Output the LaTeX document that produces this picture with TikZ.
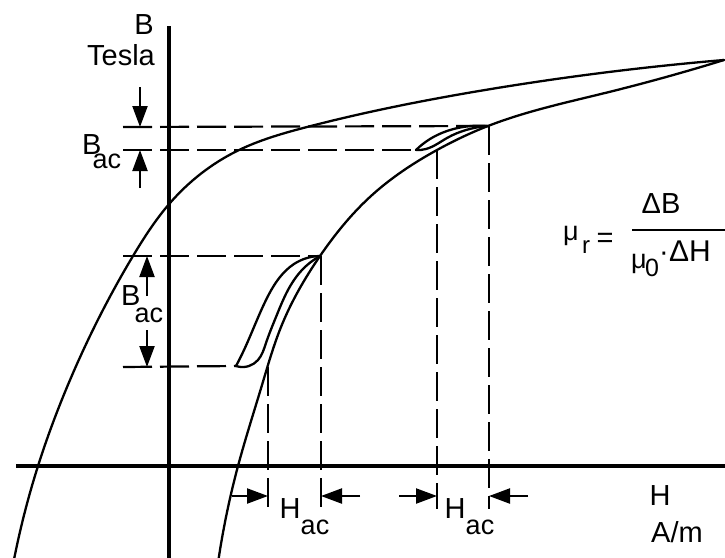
\documentclass[tikz,border=0pt]{standalone}
\usepackage{fontspec}
\setmainfont{Liberation Sans}
\usetikzlibrary{arrows.meta,hobby}
\begin{document}
\begin{tikzpicture}[x=1pt,y=-1pt,
  curve/.style={line width=2.3pt, line join=round, line cap=round},
  axis/.style={line width=4.6pt},
  guide/.style={line width=2.2pt, dash pattern=on 29pt off 8pt},
  dimarrow/.style={line width=2.2pt, -{Triangle[length=21pt,width=15pt]}},
  lbl/.style={inner sep=0pt, anchor=base, font=\fontsize{29}{31}\selectfont},
  sub/.style={inner sep=0pt, anchor=base, font=\fontsize{27}{29}\selectfont}]
\useasboundingbox (0,0) rectangle (725,557);
\clip (0,0) rectangle (725,557);
% axes
\coordinate (ytop) at (169,26);
\coordinate (ybot) at (169,570);
\coordinate (xl) at (16,466);
\coordinate (xr) at (730,466);
\draw[axis] (ytop) -- (ybot);
\draw[axis] (xl) -- (xr);
% key points
\coordinate (tip) at (724,60);
\coordinate (t1) at (488,126);
\coordinate (b1) at (416,150);
\coordinate (t2) at (320,256);
\coordinate (b2) at (236,366);
% major loop: descending branch
\draw[curve, use Hobby shortcut] (tip) .. (485,90) .. (307,127) .. (237,151) .. (170,203) .. (133,256) .. (70,380) .. (38,466) .. (12,570);
% major loop: ascending branch
\draw[curve, use Hobby shortcut] (tip) .. (605,93) .. (t1) .. (437,150) .. (371,196) .. (t2) .. (281,327) .. (262,385) .. (238,466) .. (217,570);
% upper minor loop
\draw[curve, use Hobby shortcut] (b1) .. (430,139) .. (447,131) .. (463,127) .. (t1);
\draw[curve, use Hobby shortcut] (b1) .. (426,149) .. (447,138) .. (466,130) .. (t1);
% lower minor loop
\draw[curve, use Hobby shortcut] (t2) .. (294,264) .. (280,277) .. (266,300) .. (254,327) .. (244,350) .. (b2);
\draw[curve, use Hobby shortcut] (b2) .. (249,366) .. (258,360) .. (266,343) .. (276,317) .. (288,290) .. (302,270) .. (t2);
% horizontal guides
\coordinate (g1) at (123,127);
\coordinate (g2) at (123,150);
\coordinate (g3) at (123,256);
\coordinate (g4) at (123,367);
\draw[guide] (g1) -- (t1);
\draw[guide] (g2) -- (b1);
\draw[guide] (g3) -- (t2);
\draw[guide] (g4) -- (b2);
% vertical guides
\coordinate (v1a) at (268,367); \coordinate (v1b) at (268,509);
\coordinate (v2a) at (321,256); \coordinate (v2b) at (321,509);
\coordinate (v3a) at (437,150); \coordinate (v3b) at (437,509);
\coordinate (v4a) at (489,126); \coordinate (v4b) at (489,509);
\draw[guide] (v1a) -- (v1b);
\draw[guide] (v2a) -- (v2b);
\draw[guide] (v3a) -- (v3b);
\draw[guide] (v4a) -- (v4b);
% B_ac arrows (upper)
\coordinate (ba1) at (140,87); \coordinate (ba1t) at (140,127);
\coordinate (ba2) at (140,188); \coordinate (ba2t) at (140,150);
\draw[dimarrow] (ba1) -- (ba1t);
\draw[dimarrow] (ba2) -- (ba2t);
% B_ac arrows (lower)
\coordinate (bb1) at (147,296); \coordinate (bb1t) at (147,256);
\coordinate (bb2) at (147,330); \coordinate (bb2t) at (147,367);
\draw[dimarrow] (bb1) -- (bb1t);
\draw[dimarrow] (bb2) -- (bb2t);
% H_ac arrows
\coordinate (ha1) at (232,496); \coordinate (ha1t) at (268,496);
\coordinate (ha2) at (360,496); \coordinate (ha2t) at (321,496);
\coordinate (hb1) at (399,496); \coordinate (hb1t) at (437,496);
\coordinate (hb2) at (528,496); \coordinate (hb2t) at (489,496);
\draw[dimarrow] (ha1) -- (ha1t);
\draw[dimarrow] (ha2) -- (ha2t);
\draw[dimarrow] (hb1) -- (hb1t);
\draw[dimarrow] (hb2) -- (hb2t);
% axis labels
\node[lbl] (lB) at (144,34) {B};
\node[lbl] (lT) at (121,65) {Tesla};
\node[lbl] (lH) at (660,505) {H};
\node[lbl] (lAm) at (677,542) {A/m};
% B_ac labels
\node[lbl, anchor=base west] (bac1) at (82,154) {B\kern-9pt\raisebox{-14pt}{\fontsize{27}{29}\selectfont ac}};
\node[lbl, anchor=base west] (bac2) at (121,305) {B\kern-6pt\raisebox{-17pt}{\fontsize{27}{29}\selectfont ac}};
% H_ac labels
\node[lbl] (hac1) at (290,518) {H};
\node[sub] (hac1s) at (315,534) {ac};
\node[lbl] (hac2) at (455,518) {H};
\node[sub] (hac2s) at (480,534) {ac};
% formula
\node[sub] (mur) at (571,240) {μ};
\node[inner sep=0pt, anchor=base, font=\fontsize{24}{26}\selectfont] (murs) at (586,253) {r};
\node[lbl] (eq) at (605,247) {=};
\coordinate (fl) at (632,230); \coordinate (fr) at (730,230);
\draw[line width=2.3pt] (fl) -- (fr);
\node[lbl] (dB) at (661,213) {ΔB};
\node[sub] (mu0) at (639,268) {μ};
\node[inner sep=0pt, anchor=base, font=\fontsize{25}{27}\selectfont] (mu0s) at (652,276) {0};
\node[inner sep=0pt, anchor=base, font=\fontsize{29}{31}\selectfont] (dot) at (664,261) {·};
\node[inner sep=0pt, anchor=base west, font=\fontsize{30}{32}\selectfont] (dH) at (669,261) {ΔH};
\end{tikzpicture}
\end{document}
